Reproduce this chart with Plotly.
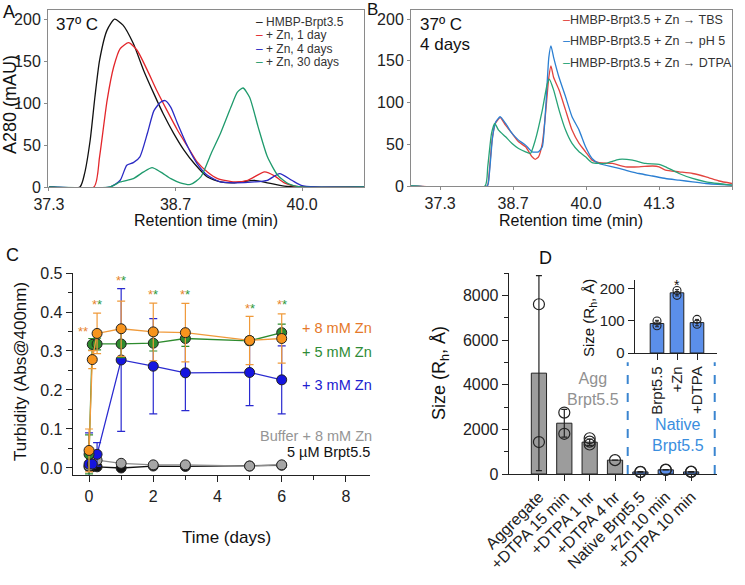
import plotly.graph_objects as go

W, H = 745, 585
FONT = "Arial, 'Liberation Sans', sans-serif"

def fx(p):
    return p / W

def fy(p):
    return 1 - p / H

# ---------------- Panel A data (chromatograms) ----------------
a_names = ["HMBP-Brpt3.5", "+ Zn, 1 day", "+ Zn, 4 days", "+ Zn, 30 days"]
a_colors = ["#111111", "#e3262b", "#2a2ac4", "#1e9a6c"]
a_x_black = [37.30, 37.63, 37.68, 37.74, 37.79, 37.84, 37.92, 38.00, 38.09, 38.20, 38.31,
             38.42, 38.52, 38.63, 38.74, 38.85, 38.99, 39.13, 39.28, 39.49, 39.63, 39.81, 39.99, 40.67]
a_y_black = [0, 0, 16, 56, 107, 151, 187, 200, 193, 171, 139,
             111, 87, 64, 44, 28, 12, 6, 5, 8, 5, 1, 0, 0]
a_x_red = [37.30, 37.78, 37.84, 37.92, 37.99, 38.06, 38.15, 38.24, 38.35, 38.45, 38.56,
           38.67, 38.78, 38.88, 38.99, 39.10, 39.28, 39.42, 39.60, 39.71, 39.81, 39.99, 40.67]
a_y_red = [0, 0, 36, 103, 143, 165, 172, 163, 139, 115, 91,
           68, 48, 30, 18, 10, 6, 8, 18, 13, 5, 0, 0]
a_x_blue = [37.30, 37.95, 38.06, 38.13, 38.20, 38.27, 38.35, 38.42, 38.49, 38.54, 38.60,
            38.67, 38.78, 38.88, 38.99, 39.13, 39.28, 39.49, 39.63, 39.76, 39.89, 39.99, 40.14, 40.67]
a_y_blue = [0, 0, 8, 26, 29, 36, 64, 91, 101, 103, 95,
            76, 48, 28, 14, 6, 5, 6, 8, 16, 8, 2, 0, 0]
a_x_green = [37.30, 37.95, 38.06, 38.20, 38.31, 38.40, 38.49, 38.60, 38.70, 38.81, 38.92,
             39.03, 39.13, 39.24, 39.31, 39.37, 39.44, 39.53, 39.63, 39.74, 39.85, 39.99, 40.67]
a_y_green = [0, 0, 6, 10, 18, 23, 18, 10, 5, 3, 12,
             40, 64, 95, 113, 118, 107, 72, 36, 14, 4, 0, 0]
a_xs = [a_x_black, a_x_red, a_x_blue, a_x_green]
a_ys = [a_y_black, a_y_red, a_y_blue, a_y_green]

# ---------------- Panel B data ----------------
b_names = ["HMBP-Brpt3.5 + Zn \u2192 TBS", "HMBP-Brpt3.5 + Zn \u2192 pH 5", "HMBP-Brpt3.5 + Zn \u2192 DTPA"]
b_colors = ["#e2453f", "#2b7fd2", "#27a377"]
b_x_red = [36.76, 38.17, 38.20, 38.26, 38.32, 38.41, 38.51, 38.63, 38.75, 38.88, 39.00, 39.06,
           39.12, 39.19, 39.25, 39.31, 39.35, 39.40, 39.50, 39.62, 39.74, 39.87, 39.99, 40.11,
           40.24, 40.49, 40.73, 40.98, 41.23, 41.35, 41.47, 41.72, 41.97, 42.22, 42.46, 42.70]
b_y_red = [0, 0, 11, 55, 75, 82, 73, 63, 53, 47, 35, 32,
           35, 51, 87, 130, 144, 130, 115, 91, 67, 51, 41, 31,
           28, 27, 23, 23, 24, 23, 19, 17, 15, 11, 6, 3]
b_x_blue = [36.76, 38.17, 38.21, 38.27, 38.33, 38.41, 38.51, 38.63, 38.75, 38.88, 39.00, 39.12,
            39.19, 39.25, 39.31, 39.35, 39.40, 39.50, 39.62, 39.74, 39.87, 39.99, 40.11, 40.24,
            40.49, 40.73, 40.98, 41.23, 41.47, 41.72, 41.97, 42.22, 42.70]
b_y_blue = [0, 0, 15, 59, 77, 83, 75, 63, 55, 49, 41, 41,
            47, 91, 154, 168, 154, 130, 107, 83, 67, 47, 33, 27,
            23, 19, 15, 12, 9, 7, 5, 3, 1]
b_x_green = [36.76, 38.13, 38.18, 38.25, 38.31, 38.38, 38.51, 38.63, 38.75, 38.88, 38.97, 39.06,
             39.19, 39.28, 39.32, 39.40, 39.50, 39.62, 39.74, 39.87, 39.99, 40.11, 40.36, 40.61,
             40.86, 41.10, 41.35, 41.47, 41.72, 41.97, 42.22, 42.70]
b_y_green = [0, 0, 23, 63, 75, 67, 59, 51, 45, 41, 39, 55,
             91, 122, 128, 115, 91, 67, 51, 41, 35, 28, 27, 32,
             31, 27, 26, 23, 15, 9, 5, 1]
b_xs = [b_x_red, b_x_blue, b_x_green]
b_ys = [b_y_red, b_y_blue, b_y_green]

ret_tickvals = [37.3, 38.65, 40.0, 41.35, 42.7]
ret_ticktext = ["37.3", "38.7", "40.0", "41.3", "42.7"]

# ---------------- Panel C data (turbidity) ----------------
time_days = [0, 0.1, 0.25, 1, 2, 3, 5, 6]
zn8 = [0.045, 0.278, 0.345, 0.357, 0.349, 0.347, 0.327, 0.332]
zn8_err = [0.055, 0.023, 0.052, 0.071, 0.074, 0.075, 0.062, 0.063]
zn5 = [0.035, 0.317, 0.318, 0.318, 0.320, 0.332, 0.326, 0.347]
zn5_err = [0.05, 0.015, 0.015, 0.035, 0.02, 0.02, 0.01, 0.022]
zn3 = [0.010, 0.010, 0.035, 0.277, 0.261, 0.244, 0.245, 0.226]
zn3_err = [0.08, 0.01, 0.03, 0.183, 0.122, 0.097, 0.085, 0.087]
buffer_zn8 = [0.005, 0.022, 0.020, 0.012, 0.008, 0.008, 0.005, 0.008]
brpt_only = [0.003, 0.003, 0.003, 0.000, 0.005, 0.004, 0.005, 0.007]
c_names = ["5 \u00b5M Brpt5.5", "Buffer + 8 mM Zn", "+ 3 mM Zn", "+ 5 mM Zn", "+ 8 mM Zn"]
c_fill = ["#111111", "#a6a6a6", "#1515e0", "#2e8b2e", "#f7941e"]
c_line = ["#111111", "#8c8c8c", "#2a2ad0", "#2e8b2e", "#f09a3a"]
c_text_col = ["#111111", "#959595", "#2020d0", "#2e8b36", "#e5782a"]
c_vals = [brpt_only, buffer_zn8, zn3, zn5, zn8]
c_errs = [None, None, zn3_err, zn5_err, zn8_err]
star_t = [-0.19, 0.25, 1, 2, 3, 5, 6]
star_y = [0.35, 0.42, 0.48, 0.445, 0.445, 0.41, 0.42]
star_second_green = [False, True, True, True, True, True, True]

# ---------------- Panel D data (DLS size) ----------------
d_categories = ["Aggregate", "+DTPA 15 min", "+DTPA 1 hr", "+DTPA 4 hr",
                "Native Brpt5.5", "+Zn 10 min", "+DTPA 10 min"]
d_means = [4515, 2275, 1425, 620, 92, 188, 95]
d_err = [4363, 620, 140, 0, 10, 10, 10]
d_points = [[7600, 1430], [2750, 1800], [1600, 1450, 1320], [620],
            [100, 85], [195, 180], [105, 90]]
d_is_native = [False, False, False, False, True, True, True]
inset_categories = ["Brpt5.5", "+Zn", "+DTPA"]
inset_means = [92, 188, 95]
inset_err = [10, 10, 10]
inset_points = [[100, 85], [195, 180], [105, 90]]

GRAY_BAR = "#9c9c9c"
BLUE_BAR = "#5b8fea"

fig = go.Figure()

# Panel A traces
for xs, ys, col in zip(a_xs, a_ys, a_colors):
    fig.add_trace(go.Scatter(x=xs, y=ys, mode="lines", xaxis="x", yaxis="y",
                             line=dict(color=col, width=1.3, shape="spline", smoothing=0.6),
                             showlegend=False, hoverinfo="skip"))
# Panel B traces
for xs, ys, col in zip(b_xs, b_ys, b_colors):
    fig.add_trace(go.Scatter(x=xs, y=ys, mode="lines", xaxis="x2", yaxis="y2",
                             line=dict(color=col, width=1.3, shape="spline", smoothing=0.5),
                             showlegend=False, hoverinfo="skip"))
# Panel C traces
for vals, err, fc, lc in zip(c_vals, c_errs, c_fill, c_line):
    ey = dict(type="data", array=err, color=lc, thickness=1.2, width=4) if err else None
    fig.add_trace(go.Scatter(x=time_days, y=vals, mode="lines+markers", xaxis="x3", yaxis="y3",
                             line=dict(color=lc, width=1.3),
                             marker=dict(size=10, color=fc, line=dict(color="#222222", width=1)),
                             error_y=ey, showlegend=False, cliponaxis=False))
# Panel D bars
d_x = list(range(len(d_categories)))
fig.add_trace(go.Bar(x=d_x, y=d_means, xaxis="x4", yaxis="y4", width=0.6,
                     marker=dict(color=[BLUE_BAR if n else GRAY_BAR for n in d_is_native],
                                 line=dict(color="#222222", width=1)),
                     error_y=dict(type="data", array=d_err, color="#222222", thickness=1.2, width=3),
                     showlegend=False))
px_, py_ = [], []
for i, pts in enumerate(d_points):
    for v in pts:
        px_.append(i)
        py_.append(v)
fig.add_trace(go.Scatter(x=px_, y=py_, mode="markers", xaxis="x4", yaxis="y4",
                         marker=dict(symbol="circle-open", size=11, color="#222222", line=dict(width=1.2)),
                         showlegend=False, cliponaxis=False))
# Inset
i_x = list(range(len(inset_categories)))
fig.add_trace(go.Bar(x=i_x, y=inset_means, xaxis="x5", yaxis="y5", width=0.68,
                     marker=dict(color=BLUE_BAR, line=dict(color="#222222", width=1)),
                     error_y=dict(type="data", array=inset_err, color="#222222", thickness=1, width=2),
                     showlegend=False))
ix_, iy_ = [], []
for i, pts in enumerate(inset_points):
    for v in pts:
        ix_.append(i)
        iy_.append(v)
fig.add_trace(go.Scatter(x=ix_, y=iy_, mode="markers", xaxis="x5", yaxis="y5",
                         marker=dict(symbol="circle-open", size=8, color="#222222", line=dict(width=1.1)),
                         showlegend=False, cliponaxis=False))

ann = []

def text(x, y, t, size=16, color="#111111", xanchor="center", yanchor="middle", angle=0, xref="paper", yref="paper"):
    ann.append(dict(x=x, y=y, xref=xref, yref=yref, text=t, showarrow=False, textangle=angle,
                    font=dict(size=size, color=color, family=FONT), xanchor=xanchor, yanchor=yanchor))

# Panel letters
text(fx(1), fy(0), "A", 18, xanchor="left", yanchor="top")
text(fx(365), fy(-2), "B", 17, xanchor="left", yanchor="top")
text(fx(4), fy(255), "C", 18, xanchor="left")
text(fx(537), fy(258), "D", 18, xanchor="left")

# A annotations
text(fx(54), fy(25), "37\u00ba C", 17, xanchor="left")
for k, (nm, col) in enumerate(zip(a_names, a_colors)):
    text(fx(254), fy(22 + 13.3 * k), f"<span style='color:{col}'>\u2013</span> {nm}", 12,
         color="#333333", xanchor="left")
text(fx(10), fy(105), "A280 (mAU)", 18, angle=-90)
text(fx(206), fy(220), "Retention time (min)", 16)

# B annotations
text(fx(418), fy(25), "37\u00ba C", 17, xanchor="left")
text(fx(418), fy(45), "4 days", 17, xanchor="left")
for k, (nm, col) in enumerate(zip(b_names, b_colors)):
    text(fx(561), fy(20 + 21.5 * k), f"<span style='color:{col}'>\u2013</span>{nm}", 12.5,
         color="#333333", xanchor="left")
text(fx(571), fy(220), "Retention time (min)", 16)

# C annotations
text(fx(20), fy(372), "Turbidity (Abs@400nm)", 17, angle=-90)
text(fx(226), fy(537), "Time (days)", 17)
label_pos = [(285, 452), (258, 436), (300, 385), (300, 352), (300, 328)]
for nm, col, (lx, ly) in zip(c_names, c_text_col, label_pos):
    text(fx(lx), fy(ly), nm, 14.5, color=col, xanchor="left")
for t, y, g in zip(star_t, star_y, star_second_green):
    second = "#2e9a3c" if g else "#e8842c"
    text(t, y, f"<span style='color:#e8842c'>*</span><span style='color:{second}'>*</span>", 13,
         xref="x3", yref="y3", yanchor="middle")

# D annotations
text(fx(440), fy(373), "Size (R<sub>h</sub>, \u00c5)", 18, angle=-90)
text(fx(593), fy(389), "Agg<br>Brpt5.5", 16, color="#919191")
text(fx(678), fy(435), "Native<br>Brpt5.5", 16, color="#3a8ede")
text(fx(589), fy(318), "Size (R<sub>h</sub>, \u00c5)", 15, angle=-90)
text(1, 212, "*", 14, xref="x5", yref="y5")

axis_common = dict(showgrid=False, zeroline=False, ticks="outside", showline=True,
                   tickfont=dict(size=16, color="#222222", family=FONT))
box = dict(mirror=True, linecolor="#8a8a8a", tickcolor="#8a8a8a", linewidth=1, ticklen=3)
dark = dict(linecolor="#222222", tickcolor="#222222", linewidth=1.3, ticklen=6)
f15 = dict(size=15, color="#222222", family=FONT)
f16 = dict(size=16, color="#222222", family=FONT)

fig.update_layout(
    width=W, height=H, autosize=False,
    margin=dict(l=0, r=0, t=0, b=0, pad=0, autoexpand=False),
    paper_bgcolor="white", plot_bgcolor="rgba(0,0,0,0)",
    font=dict(family=FONT, color="#111111"),
    annotations=ann,
    bargap=0,
    xaxis=dict(domain=[fx(48), fx(364)], range=[37.29, 40.66], tickvals=ret_tickvals[:3],
               ticktext=ret_ticktext[:3], anchor="y", **{**axis_common, "tickfont": f16}, **box),
    yaxis=dict(domain=[fy(187), fy(10)], range=[0, 211], tickvals=[0, 50, 100, 150, 200],
               anchor="x", **axis_common, **box),
    xaxis2=dict(domain=[fx(411), fx(732)], range=[36.76, 42.7], tickvals=ret_tickvals,
                ticktext=ret_ticktext, anchor="y2", **{**axis_common, "tickfont": f16}, **box),
    yaxis2=dict(domain=[fy(186), fy(10)], range=[0, 211], tickvals=[0, 50, 100, 150, 200],
                anchor="x2", **axis_common, **box),
    xaxis3=dict(domain=[fx(73), fx(370)], range=[-0.5, 8.75], tickvals=[0, 2, 4, 6, 8],
                minor=dict(dtick=1, tick0=0, ticks="outside", ticklen=4, tickcolor="#222222"),
                anchor="y3", **axis_common, **dark),
    yaxis3=dict(domain=[fy(475), fy(273)], range=[-0.018, 0.5], tickvals=[0, 0.1, 0.2, 0.3, 0.4, 0.5],
                tickformat=".1f",
                minor=dict(dtick=0.05, tick0=0, ticks="outside", ticklen=4, tickcolor="#222222"),
                anchor="x3", **axis_common, **dark),
    xaxis4=dict(domain=[fx(509), fx(717)], range=[-1.18, 7.02], tickvals=d_x, ticktext=d_categories,
                tickangle=-45, anchor="y4", **{**axis_common, "tickfont": f16}, **dark),
    yaxis4=dict(domain=[fy(474), fy(273)], range=[0, 9000], tickvals=[0, 2000, 4000, 6000, 8000],
                minor=dict(dtick=1000, tick0=0, ticks="outside", ticklen=4, tickcolor="#222222"),
                anchor="x4", **axis_common, **dark),
    xaxis5=dict(domain=[fx(635), fx(717)], range=[-1.1, 3.0], tickvals=i_x, ticktext=inset_categories,
                tickangle=-90, anchor="y5", **{**axis_common, "tickfont": f15}, **dark),
    yaxis5=dict(domain=[fy(353), fy(280)], range=[0, 228], tickvals=[0, 100, 200],
                anchor="x5", **{**axis_common, "tickfont": f15}, **dark),
    shapes=[
        dict(type="line", xref="x4", yref="y4", x0=3.5, x1=3.5, y0=0, y1=5000,
             line=dict(color="#3a85d0", width=2, dash="dash")),
        dict(type="line", xref="x4", yref="y4", x0=6.93, x1=6.93, y0=0, y1=5000,
             line=dict(color="#3a85d0", width=2, dash="dash")),
    ],
)

fig.write_html("out.html", config={"displayModeBar": False, "staticPlot": True},
               post_script="document.body.style.margin='0';document.body.style.overflow='hidden';")
